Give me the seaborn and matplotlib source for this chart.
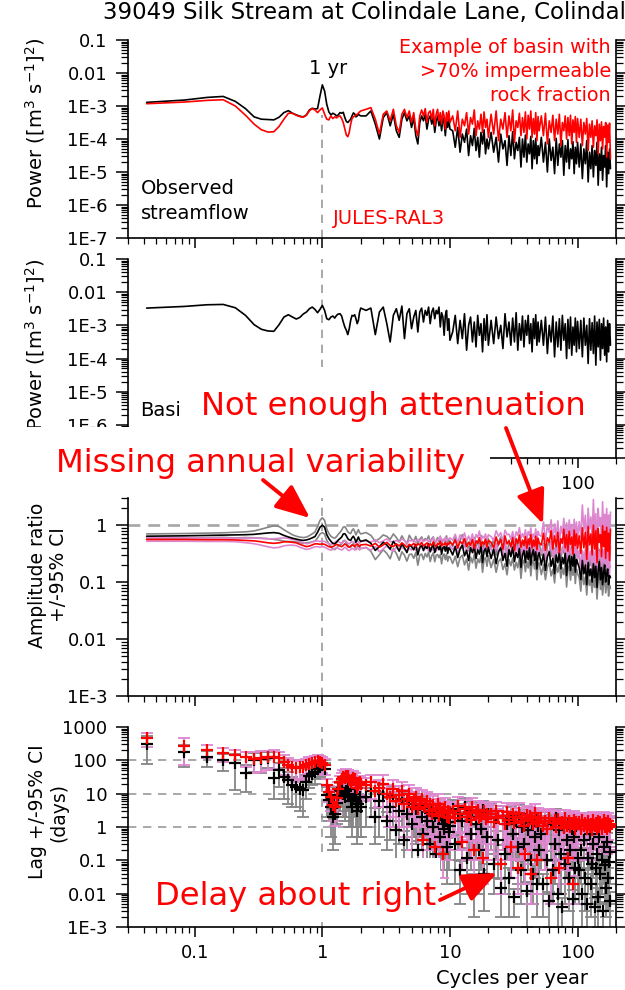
import numpy as np
import matplotlib
matplotlib.use("Agg")
import matplotlib.pyplot as plt
import seaborn as sns
from matplotlib.patches import Rectangle, FancyArrowPatch
from matplotlib.ticker import FixedLocator, FixedFormatter, LogLocator, NullFormatter

# ---------------- data ----------------
freq_cpy = [
    0.042, 0.083, 0.125, 0.167, 0.208, 0.25, 0.292, 0.333, 0.375, 0.417,
    0.458, 0.5, 0.542, 0.583, 0.625, 0.667, 0.708, 0.75, 0.792, 0.833,
    0.875, 0.917, 0.958, 1.0, 1.042, 1.083, 1.125, 1.167, 1.208, 1.25,
    1.292, 1.333, 1.375, 1.417, 1.458, 1.5, 1.542, 1.583, 1.625, 1.667,
    1.708, 1.75, 1.792, 1.833, 1.875, 1.917, 1.958, 2.0,
    2.2, 2.4, 2.6, 2.8, 3.0, 3.2, 3.4, 3.6, 3.8, 4.0,
    4.2, 4.4, 4.6, 4.8, 5.0, 5.2, 5.4, 5.6, 5.8, 6.0,
    6.2, 6.4, 6.6, 6.8, 7.0, 7.2, 7.4, 7.6, 7.8, 8.0,
    8.2, 8.4, 8.6, 8.8, 9.0, 9.2, 9.4, 9.6, 9.8, 10.0,
    10.5, 11, 11.5, 12, 12.5, 13, 13.5, 14, 14.5, 15,
    15.5, 16, 16.5, 17, 17.5, 18, 18.5, 19, 19.5, 20,
    21, 22, 23, 24, 25, 26, 27, 28, 29, 30,
    31, 32, 33, 34, 35, 36, 37, 38, 39, 40,
    41, 42, 43, 44, 45, 46, 47, 48, 49, 50,
    52, 54, 56, 58, 60, 62, 64, 66, 68, 70,
    72, 74, 76, 78, 80, 82, 84, 86, 88, 90,
    92, 94, 96, 98, 100,
    103, 106, 109, 112, 115, 118, 121, 124, 127, 130,
    133, 136, 139, 142, 145, 148, 151, 154, 157, 160,
    163, 166, 169, 172, 175, 178, 181]

# Panel 1: observed streamflow power (log10 of [m3 s-1]^2)
obs_power_log10 = [
    -2.89, -2.82, -2.74, -2.71, -2.86, -3.08, -3.33, -3.40, -3.41, -3.42,
    -3.34, -3.20, -3.14, -3.22, -3.27, -3.31, -3.33, -3.27, -3.12, -3.07,
    -3.09, -3.08, -2.70, -2.36, -2.55, -2.95, -3.18, -3.27, -3.22, -3.25,
    -3.30, -3.27, -3.20, -3.22, -3.19, -3.35, -3.47, -3.50, -3.45, -3.40,
    -3.30, -3.21, -3.24, -3.33, -3.30, -3.25, -3.28, -3.30,
    -3.30, -3.15, -3.55, -4.00, -3.35, -3.20, -3.60, -3.25, -3.75, -3.95,
    -3.40, -3.20, -3.45, -3.30, -3.65, -3.35, -3.90, -4.15, -3.50, -3.30,
    -3.45, -3.25, -3.70, -3.40, -3.30, -3.55, -3.35, -3.80, -3.45, -3.30,
    -3.60, -3.40, -3.75, -3.35, -3.50, -3.90, -3.45, -3.65, -3.40, -3.70,
    -3.75, -4.25, -3.65, -4.40, -3.85, -4.10, -3.70, -4.50, -3.90, -4.20,
    -3.68, -4.35, -3.95, -4.55, -3.80, -4.15, -3.72, -4.45, -4.00, -4.30,
    -3.80, -4.40, -3.95, -4.70, -3.85, -4.30, -4.05, -4.80, -3.90, -4.50,
    -3.78, -4.60, -4.10, -4.35, -3.95, -4.85, -4.00, -4.55, -3.88, -4.70,
    -4.15, -4.45, -3.92, -4.90, -4.05, -4.60, -3.98, -4.75, -4.20, -4.50,
    -3.95, -4.70, -4.10, -5.00, -4.00, -4.65, -4.25, -5.05, -3.98, -4.80,
    -4.15, -4.55, -4.05, -5.10, -4.20, -4.70, -4.02, -4.90, -4.30, -4.60,
    -4.08, -5.05, -4.25, -4.75, -4.10,
    -4.85, -4.15, -5.20, -4.30, -4.75, -4.05, -5.30, -4.40, -4.90, -4.20,
    -5.15, -4.35, -4.80, -4.10, -5.40, -4.45, -4.95, -4.25, -5.25, -4.50,
    -4.85, -4.20, -5.45, -4.40, -5.05, -4.30, -4.90]

# Panel 1: JULES-RAL3 simulated streamflow power (log10)
model_power_log10 = [
    -2.93, -2.88, -2.83, -2.81, -3.00, -3.28, -3.55, -3.72, -3.79, -3.78,
    -3.62, -3.40, -3.22, -3.22, -3.28, -3.32, -3.34, -3.28, -3.14, -3.08,
    -3.12, -3.20, -3.12, -3.06, -3.25, -3.40, -3.42, -3.30, -3.38, -3.33,
    -3.36, -3.32, -3.30, -3.38, -3.50, -3.70, -3.88, -3.93, -3.80, -3.55,
    -3.38, -3.33, -3.30, -3.28, -3.25, -3.22, -3.18, -3.15,
    -3.10, -3.05, -3.40, -3.85, -3.25, -3.15, -3.45, -3.10, -3.60, -3.80,
    -3.25, -3.10, -3.35, -3.15, -3.50, -3.20, -3.70, -3.90, -3.30, -3.12,
    -3.30, -3.08, -3.50, -3.20, -3.15, -3.40, -3.10, -3.60, -3.25, -3.10,
    -3.45, -3.20, -3.55, -3.15, -3.30, -3.70, -3.20, -3.45, -3.15, -3.50,
    -3.30, -3.75, -3.15, -3.95, -3.40, -3.60, -3.20, -3.85, -3.35, -3.55,
    -3.12, -3.90, -3.45, -3.70, -3.25, -3.80, -3.18, -3.65, -3.40, -3.95,
    -3.25, -3.85, -3.15, -4.05, -3.40, -3.70, -3.20, -3.95, -3.30, -3.75,
    -3.12, -4.10, -3.45, -3.65, -3.22, -3.90, -3.35, -3.80, -3.18, -4.00,
    -3.28, -3.70, -3.15, -3.95, -3.38, -3.85, -3.20, -4.05, -3.32, -3.75,
    -3.30, -3.90, -3.22, -4.15, -3.45, -3.80, -3.28, -4.05, -3.40, -3.85,
    -3.25, -4.20, -3.50, -3.75, -3.30, -4.00, -3.35, -3.90, -3.28, -4.15,
    -3.42, -3.80, -3.32, -4.10, -3.38,
    -3.95, -3.40, -4.20, -3.50, -3.85, -3.38, -4.35, -3.55, -3.95, -3.45,
    -4.25, -3.60, -3.90, -3.42, -4.45, -3.55, -4.05, -3.48, -4.30, -3.62,
    -3.95, -3.50, -4.55, -3.58, -4.10, -3.52, -4.60]

# Panel 2: basin input power (log10)
basin_power_log10 = [
    -2.48, -2.43, -2.38, -2.37, -2.47, -2.70, -2.98, -3.12, -3.17, -3.18,
    -2.98, -2.75, -2.68, -2.75, -2.81, -2.76, -2.66, -2.60, -2.50, -2.45,
    -2.52, -2.62, -2.52, -2.40, -2.55, -2.80, -2.83, -2.75, -2.72, -2.78,
    -2.70, -2.66, -2.65, -2.72, -2.90, -3.05, -3.15, -3.28, -3.10, -2.85,
    -2.70, -2.72, -2.68, -2.80, -2.95, -2.85, -2.60, -2.48,
    -2.55, -2.48, -3.28, -2.60, -2.45, -2.95, -3.50, -2.70, -2.50, -2.85,
    -2.42, -3.40, -2.65, -2.50, -3.10, -2.75, -2.55, -3.20, -2.60, -2.48,
    -2.90, -2.55, -2.70, -2.45, -2.95, -2.60, -2.48, -2.80, -2.55, -2.65,
    -2.45, -3.05, -2.62, -2.75, -3.30, -2.70, -2.55, -3.15, -2.80, -3.45,
    -3.20, -2.70, -3.55, -2.85, -3.40, -2.65, -3.75, -3.00, -2.75, -3.50,
    -2.90, -3.65, -2.70, -3.30, -2.95, -3.80, -2.80, -3.45, -2.68, -3.60,
    -2.85, -3.55, -2.75, -3.40, -3.00, -3.70, -2.65, -3.35, -2.90, -3.60,
    -2.78, -3.50, -2.62, -3.75, -2.95, -3.45, -2.72, -3.65, -2.85, -3.30,
    -2.70, -3.55, -2.95, -3.80, -2.80, -3.40, -2.68, -3.60, -2.90, -3.50,
    -2.85, -3.60, -2.75, -3.85, -3.00, -3.50, -2.72, -3.95, -2.90, -3.65,
    -2.80, -3.75, -2.70, -3.45, -2.95, -4.00, -2.82, -3.70, -2.75, -3.90,
    -3.05, -3.60, -2.78, -3.80, -2.88,
    -3.70, -2.85, -3.95, -2.78, -3.60, -3.00, -4.15, -2.80, -3.75, -2.92,
    -3.85, -2.72, -4.20, -2.90, -3.65, -2.82, -4.05, -2.95, -3.70, -2.78,
    -3.90, -3.05, -4.10, -2.85, -3.80, -2.95, -3.60]

# Panel 3: amplitude ratio (observed, black) and its 95% CI half-width (decades)
amp_obs = [
    0.64, 0.65, 0.66, 0.67, 0.67, 0.68, 0.69, 0.71, 0.73, 0.74,
    0.72, 0.66, 0.62, 0.59, 0.57, 0.55, 0.54, 0.55, 0.57, 0.60,
    0.63, 0.75, 0.92, 1.00, 0.92, 0.68, 0.58, 0.52, 0.48, 0.47,
    0.50, 0.55, 0.58, 0.62, 0.70, 0.71, 0.65, 0.58, 0.55, 0.54,
    0.60, 0.64, 0.58, 0.50, 0.56, 0.62, 0.55, 0.52,
    0.55, 0.48, 0.36, 0.42, 0.50, 0.45, 0.38, 0.52, 0.44, 0.35,
    0.47, 0.40, 0.33, 0.45, 0.42, 0.37, 0.46, 0.30, 0.41, 0.44,
    0.36, 0.43, 0.39, 0.47, 0.34, 0.41, 0.45, 0.33, 0.40, 0.43,
    0.37, 0.44, 0.31, 0.40, 0.42, 0.35, 0.45, 0.32, 0.40, 0.38,
    0.30, 0.42, 0.27, 0.38, 0.45, 0.29, 0.36, 0.24, 0.40, 0.33,
    0.43, 0.26, 0.37, 0.31, 0.44, 0.22, 0.35, 0.39, 0.28, 0.41,
    0.26, 0.38, 0.21, 0.34, 0.40, 0.24, 0.32, 0.19, 0.37, 0.28,
    0.41, 0.23, 0.33, 0.27, 0.39, 0.18, 0.30, 0.36, 0.22, 0.35,
    0.25, 0.40, 0.20, 0.31, 0.37, 0.24, 0.34, 0.17, 0.29, 0.33,
    0.20, 0.31, 0.16, 0.28, 0.34, 0.19, 0.26, 0.14, 0.30, 0.22,
    0.33, 0.17, 0.27, 0.21, 0.32, 0.13, 0.24, 0.29, 0.16, 0.28,
    0.19, 0.31, 0.15, 0.25, 0.22,
    0.18, 0.11, 0.24, 0.14, 0.20, 0.09, 0.22, 0.13, 0.17, 0.10,
    0.21, 0.12, 0.19, 0.08, 0.16, 0.23, 0.11, 0.18, 0.09, 0.15,
    0.20, 0.10, 0.14, 0.17, 0.09, 0.13, 0.12]
amp_obs_ci_dex = [
    0.04, 0.04, 0.04, 0.04, 0.05, 0.05, 0.06, 0.08, 0.10, 0.12,
    0.12, 0.10, 0.08, 0.06, 0.05, 0.05, 0.05, 0.05, 0.06, 0.07,
    0.08, 0.10, 0.12, 0.13, 0.12, 0.10, 0.09, 0.09, 0.10, 0.10,
    0.10, 0.10, 0.11, 0.12, 0.12, 0.12, 0.12, 0.12, 0.12, 0.12,
    0.13, 0.13, 0.13, 0.13, 0.13, 0.13, 0.13, 0.13,
    0.13, 0.14, 0.16, 0.14, 0.13, 0.15, 0.17, 0.13, 0.14, 0.16,
    0.14, 0.13, 0.15, 0.17, 0.13, 0.15, 0.14, 0.18, 0.14, 0.15,
    0.16, 0.13, 0.15, 0.14, 0.17, 0.15, 0.14, 0.16, 0.13, 0.15,
    0.14, 0.16, 0.17, 0.14, 0.13, 0.15, 0.16, 0.14, 0.15, 0.14,
    0.15, 0.17, 0.16, 0.15, 0.18, 0.16, 0.15, 0.17, 0.16, 0.18,
    0.15, 0.17, 0.16, 0.15, 0.18, 0.17, 0.15, 0.16, 0.17, 0.15,
    0.16, 0.18, 0.15, 0.17, 0.19, 0.16, 0.18, 0.15, 0.17, 0.16,
    0.19, 0.15, 0.17, 0.18, 0.16, 0.19, 0.15, 0.17, 0.16, 0.18,
    0.15, 0.17, 0.19, 0.16, 0.18, 0.15, 0.17, 0.19, 0.16, 0.18,
    0.17, 0.19, 0.16, 0.18, 0.20, 0.17, 0.19, 0.16, 0.18, 0.17,
    0.20, 0.16, 0.18, 0.19, 0.17, 0.20, 0.16, 0.18, 0.17, 0.19,
    0.16, 0.18, 0.20, 0.17, 0.19,
    0.18, 0.20, 0.17, 0.19, 0.21, 0.18, 0.20, 0.17, 0.19, 0.18,
    0.21, 0.17, 0.19, 0.20, 0.18, 0.21, 0.17, 0.19, 0.18, 0.20,
    0.17, 0.19, 0.21, 0.18, 0.20, 0.17, 0.19]

# Panel 3: amplitude ratio (JULES-RAL3, red) and CI half-width (decades)
amp_model = [
    0.56, 0.56, 0.555, 0.555, 0.55, 0.54, 0.53, 0.51, 0.49, 0.48,
    0.49, 0.51, 0.51, 0.50, 0.49, 0.46, 0.44, 0.42, 0.43, 0.45,
    0.47, 0.47, 0.46, 0.47, 0.46, 0.44, 0.42, 0.41, 0.42, 0.44,
    0.46, 0.45, 0.43, 0.42, 0.44, 0.47, 0.45, 0.42, 0.41, 0.43,
    0.45, 0.44, 0.42, 0.45, 0.47, 0.44, 0.42, 0.45,
    0.46, 0.43, 0.48, 0.41, 0.45, 0.50, 0.44, 0.42, 0.47, 0.43,
    0.49, 0.45, 0.41, 0.46, 0.44, 0.48, 0.42, 0.47, 0.45, 0.50,
    0.43, 0.46, 0.49, 0.42, 0.47, 0.44, 0.51, 0.45, 0.42, 0.48,
    0.46, 0.52, 0.43, 0.47, 0.45, 0.50, 0.44, 0.48, 0.46, 0.51,
    0.45, 0.55, 0.40, 0.52, 0.47, 0.58, 0.42, 0.50, 0.44, 0.56,
    0.39, 0.53, 0.48, 0.60, 0.43, 0.51, 0.46, 0.57, 0.41, 0.54,
    0.50, 0.40, 0.62, 0.45, 0.56, 0.38, 0.65, 0.47, 0.53, 0.42,
    0.60, 0.36, 0.58, 0.48, 0.67, 0.41, 0.55, 0.44, 0.63, 0.39,
    0.57, 0.46, 0.68, 0.40, 0.54, 0.43, 0.64, 0.37, 0.59, 0.49,
    0.45, 0.72, 0.36, 0.60, 0.50, 0.80, 0.38, 0.65, 0.42, 0.75,
    0.33, 0.58, 0.48, 0.85, 0.40, 0.68, 0.35, 0.78, 0.46, 0.62,
    0.31, 0.82, 0.44, 0.70, 0.39,
    0.65, 0.32, 0.90, 0.40, 0.75, 0.25, 0.95, 0.45, 0.70, 0.30,
    1.00, 0.38, 0.80, 0.22, 0.88, 0.50, 0.68, 0.28, 0.98, 0.42,
    0.78, 0.26, 0.92, 0.35, 0.72, 0.24, 0.85]
amp_model_ci_dex = [
    0.03, 0.03, 0.03, 0.03, 0.03, 0.04, 0.05, 0.06, 0.07, 0.08,
    0.08, 0.07, 0.06, 0.05, 0.05, 0.05, 0.05, 0.05, 0.05, 0.05,
    0.05, 0.05, 0.05, 0.05, 0.05, 0.05, 0.05, 0.05, 0.05, 0.05,
    0.06, 0.06, 0.06, 0.06, 0.06, 0.06, 0.06, 0.06, 0.06, 0.06,
    0.06, 0.06, 0.06, 0.06, 0.06, 0.06, 0.06, 0.06,
    0.06, 0.07, 0.06, 0.08, 0.07, 0.06, 0.07, 0.08, 0.06, 0.07,
    0.07, 0.08, 0.06, 0.07, 0.08, 0.06, 0.07, 0.08, 0.07, 0.06,
    0.08, 0.07, 0.06, 0.08, 0.07, 0.09, 0.07, 0.06, 0.08, 0.07,
    0.08, 0.09, 0.07, 0.08, 0.06, 0.09, 0.07, 0.08, 0.09, 0.07,
    0.08, 0.10, 0.09, 0.11, 0.08, 0.10, 0.09, 0.11, 0.08, 0.10,
    0.09, 0.11, 0.10, 0.12, 0.09, 0.10, 0.11, 0.09, 0.12, 0.10,
    0.10, 0.13, 0.11, 0.15, 0.12, 0.14, 0.10, 0.16, 0.12, 0.13,
    0.11, 0.15, 0.12, 0.14, 0.13, 0.16, 0.11, 0.14, 0.12, 0.15,
    0.13, 0.16, 0.12, 0.14, 0.11, 0.15, 0.13, 0.17, 0.12, 0.14,
    0.15, 0.20, 0.16, 0.22, 0.17, 0.19, 0.15, 0.21, 0.18, 0.20,
    0.16, 0.22, 0.17, 0.19, 0.15, 0.21, 0.18, 0.20, 0.16, 0.22,
    0.17, 0.19, 0.15, 0.21, 0.18,
    0.25, 0.28, 0.40, 0.30, 0.30, 0.26, 0.32, 0.28, 0.30, 0.27,
    0.45, 0.28, 0.30, 0.24, 0.35, 0.28, 0.30, 0.26, 0.42, 0.28,
    0.30, 0.25, 0.33, 0.28, 0.32, 0.25, 0.30]

# Panel 4: lag (days) and +/-95% CI (days), observed (black)
lag_obs_days = [
    310, 173, 129, 102, 86, 41, 105, 112, 120, 29,
    51, 32, 25, 18, 16, 14, 13, 22, 35, 40,
    45, 55, 62, 70, 55, 9, 6.5, 4, 2.0, 2.5,
    5.2, 9, 12, 15, 10, 8, 12, 14, 9, 6,
    4, 7, 10, 6, 3, 5, 8, 4,
    8, 12, 2.0, 6, 10, 1.5, 4, 9, 0.8, 3,
    7, 0.4, 2.5, 6, 1.2, 5, 3.5, 0.2, 4.5, 2.0,
    0.6, 3.8, 1.5, 3, 0.3, 2.8, 1.0, 2.2, 0.15, 2.6,
    1.8, 0.5, 2.0, 1.2, 0.9, 1.6, 0.25, 1.4, 0.7, 1.1,
    3.5, 0.3, 2.5, 0.05, 1.5, 4.0, 0.12, 2.0, 0.6, 3.0,
    0.02, 1.2, 2.8, 0.2, 0.9, 3.2, 0.04, 1.8, 0.5, 2.4,
    2.5, 0.08, 1.8, 0.4, 0.015, 2.2, 0.15, 1.2, 0.03, 2.0,
    0.6, 0.008, 1.5, 0.25, 2.3, 0.05, 1.0, 0.3, 1.7, 0.012,
    0.8, 2.0, 0.1, 1.3, 0.04, 0.5, 1.6, 0.02, 1.1, 0.2,
    0.6, 0.02, 1.5, 0.1, 0.006, 1.2, 0.05, 0.3, 1.8, 0.01,
    0.8, 0.15, 0.004, 1.0, 0.08, 0.4, 1.3, 0.03, 0.2, 0.9,
    0.007, 0.5, 0.06, 1.1, 0.12,
    0.05, 0.2, 0.01, 0.4, 0.03, 0.005, 0.12, 0.6, 0.02, 0.08,
    0.3, 0.004, 0.06, 0.15, 0.008, 0.5, 0.04, 0.1, 0.003, 0.25,
    0.07, 0.015, 0.35, 0.03, 0.09, 0.006, 0.18]
lag_obs_ci_days = [
    230, 111, 64, 54, 73, 30, 60, 70, 60, 22,
    35, 25, 20, 14, 12, 11, 11, 15, 20, 22,
    25, 28, 30, 32, 28, 7, 5, 3.5, 1.8, 2.2,
    4, 7, 9, 11, 8, 6.5, 10, 11, 8, 5,
    3.5, 6, 8, 5, 2.7, 4.5, 7, 3.5,
    7, 10, 1.7, 5.5, 8, 1.3, 3.6, 8, 0.7, 2.7,
    6, 0.35, 2.3, 5, 1.1, 4.5, 3.2, 0.18, 4, 1.8,
    0.55, 3.4, 1.4, 2.8, 0.27, 2.5, 0.95, 2.0, 0.14, 2.4,
    1.7, 0.45, 1.9, 1.1, 0.85, 1.5, 0.23, 1.3, 0.65, 1.0,
    3.0, 0.28, 2.3, 0.045, 1.4, 3.5, 0.11, 1.9, 0.55, 2.8,
    0.018, 1.1, 2.6, 0.19, 0.85, 3.0, 0.037, 1.7, 0.47, 2.3,
    2.3, 0.07, 1.7, 0.37, 0.013, 2.0, 0.14, 1.1, 0.028, 1.9,
    0.55, 0.006, 1.4, 0.23, 2.2, 0.045, 0.95, 0.28, 1.6, 0.011,
    0.75, 1.9, 0.09, 1.2, 0.035, 0.47, 1.5, 0.018, 1.0, 0.18,
    0.55, 0.018, 1.4, 0.09, 0.005, 1.1, 0.045, 0.28, 1.7, 0.009,
    0.75, 0.14, 0.0035, 0.95, 0.075, 0.37, 1.2, 0.027, 0.18, 0.85,
    0.006, 0.47, 0.055, 1.0, 0.11,
    0.045, 0.18, 0.009, 0.37, 0.027, 0.0045, 0.11, 0.55, 0.018, 0.075,
    0.27, 0.0035, 0.055, 0.14, 0.007, 0.46, 0.037, 0.09, 0.0025, 0.23,
    0.065, 0.013, 0.32, 0.027, 0.085, 0.0055, 0.16]

# Panel 4: lag (days) and +/-95% CI (days), JULES-RAL3 (red)
lag_model_days = [
    457, 270, 204, 162, 145, 123, 107, 115, 123, 129,
    115, 91, 72, 65, 58, 65, 62, 72, 80, 83,
    91, 98, 91, 83, 72, 18, 11.5, 8, 4.5, 4.1,
    7.4, 14, 22, 28, 32, 30, 35, 33, 26, 22,
    25, 30, 27, 20, 15, 18, 22, 19,
    18, 22, 12, 15, 20, 10, 8, 14, 6, 9,
    12, 5, 7, 10, 4, 6, 8, 3.5, 5, 7,
    0.4, 4, 6, 3, 5, 2.5, 4.5, 0.25, 3.5, 5,
    2.2, 3.8, 2.8, 0.15, 3.2, 4, 2, 3, 1.8, 2.6,
    3.0, 1.8, 4.2, 2.4, 0.35, 3.5, 2.0, 2.8, 1.6, 4.0,
    0.2, 2.6, 3.2, 1.9, 2.2, 0.12, 3.0, 1.7, 2.5, 2.0,
    2.5, 1.4, 3.0, 1.8, 0.08, 2.2, 1.2, 2.8, 1.6, 0.25,
    2.4, 1.3, 2.0, 0.06, 2.7, 1.5, 1.9, 1.1, 0.15, 2.3,
    1.6, 2.1, 0.04, 1.8, 1.2, 2.6, 1.4, 0.1, 1.9, 1.5,
    1.8, 1.1, 1.5, 0.9, 1.9, 0.03, 1.3, 1.6, 1.0, 1.7,
    0.06, 1.2, 1.4, 0.95, 1.8, 1.1, 0.12, 1.5, 1.0, 1.3,
    0.02, 1.6, 0.9, 1.4, 1.2,
    1.4, 0.9, 1.6, 1.1, 1.3, 0.85, 1.5, 1.0, 1.2, 0.8,
    1.6, 1.1, 1.3, 0.9, 1.5, 1.0, 1.4, 0.85, 1.2, 1.6,
    1.0, 1.3, 0.9, 1.5, 1.1, 1.2, 1.0]
lag_model_ci_days = [
    200, 200, 90, 70, 60, 60, 65, 70, 72, 75,
    65, 55, 45, 40, 35, 38, 37, 40, 42, 40,
    42, 44, 42, 40, 36, 9, 6, 5, 3, 3,
    5, 8, 12, 15, 18, 17, 20, 19, 15, 13,
    14, 17, 15, 12, 9, 11, 13, 11,
    12, 15, 10, 11, 16, 8, 7, 12, 5, 8,
    10, 4.5, 6, 8, 3.8, 5, 7, 3.3, 4, 6,
    0.3, 3.6, 5, 2.8, 4.5, 2.3, 4, 0.2, 3.2, 4.5,
    2.1, 3.2, 2.6, 0.12, 3, 3.6, 1.9, 2.8, 1.6, 2.4,
    2.5, 1.6, 3.5, 2.2, 0.3, 3.0, 1.9, 2.4, 1.5, 3.6,
    0.18, 2.4, 2.8, 1.8, 2.0, 0.1, 2.7, 1.6, 2.3, 1.9,
    2.2, 1.3, 2.6, 1.7, 0.07, 2.0, 1.1, 2.5, 1.5, 0.22,
    2.2, 1.2, 1.8, 0.05, 2.4, 1.4, 1.8, 1.0, 0.13, 2.1,
    1.5, 1.9, 0.035, 1.7, 1.1, 2.3, 1.3, 0.09, 1.8, 1.4,
    1.5, 1.0, 1.45, 0.8, 1.6, 0.025, 1.25, 1.4, 0.97, 1.5,
    0.05, 1.15, 1.2, 0.9, 1.5, 1.05, 0.1, 1.4, 0.95, 1.2,
    0.015, 1.5, 0.85, 1.3, 1.1,
    1.0, 0.8, 1.1, 0.9, 1.0, 0.75, 1.1, 0.85, 0.9, 0.7,
    1.2, 0.9, 1.0, 0.8, 1.1, 0.85, 1.0, 0.7, 0.9, 1.2,
    0.8, 1.0, 0.75, 1.1, 0.9, 0.95, 0.8]

# tick values / labels (labels hidden by the callout boxes are left blank)
x_ticks = [0.1, 1, 10, 100]
x_tick_labels = ["0.1", "1", "10", "100"]
x_tick_labels_panel2 = ["", "", "", "100"]
power_ticks = [1e-7, 1e-6, 1e-5, 1e-4, 1e-3, 0.01, 0.1]
power_tick_labels = ["1E-7", "1E-6", "1E-5", "1E-4", "1E-3", "0.01", "0.1"]
power_tick_labels_panel2 = ["", "1E-6", "1E-5", "1E-4", "1E-3", "0.01", "0.1"]
amp_ticks = [1e-3, 0.01, 0.1, 1]
amp_tick_labels = ["1E-3", "0.01", "0.1", "1"]
lag_ticks = [1e-3, 0.01, 0.1, 1, 10, 100, 1000]
lag_tick_labels = ["1E-3", "0.01", "0.1", "1", "10", "100", "1000"]
lag_ref_lines = [100, 10, 1]
annual_cpy = 1.0

_series = dict(obs=obs_power_log10, mod=model_power_log10, basin=basin_power_log10,
               ao=amp_obs, aoc=amp_obs_ci_dex, am=amp_model, amc=amp_model_ci_dex,
               lo=lag_obs_days, loc=lag_obs_ci_days, lm=lag_model_days, lmc=lag_model_ci_days)
for _k, _v in _series.items():
    assert len(_v) == len(freq_cpy), (_k, len(_v), len(freq_cpy))

# ---------------- style ----------------
sns.set_style("ticks")
plt.rcParams["font.family"] = ["DejaVu Sans"]
plt.rcParams["axes.linewidth"] = 1.2
plt.rcParams["text.color"] = "black"
plt.rcParams["axes.labelcolor"] = "black"
plt.rcParams["xtick.color"] = "black"
plt.rcParams["ytick.color"] = "black"
plt.rcParams["axes.edgecolor"] = "black"

BLACK = "black"
RED = "#ff0000"
GREY = "#858585"
PINK = "#dd86cf"
DASH = "#9a9a9a"

W, H = 625.0, 990.0
fig = plt.figure(figsize=(6.25, 9.9), dpi=100, facecolor="white")


def rect(x0, y0, x1, y1):
    return [x0 / W, 1 - y1 / H, (x1 - x0) / W, (y1 - y0) / H]


def fx(x):
    return x / W


def fy(y):
    return 1 - y / H


ax1 = fig.add_axes(rect(128, 40, 616, 238))
ax2 = fig.add_axes(rect(128, 259, 616, 458))
ax3 = fig.add_axes(rect(128, 498, 616, 696))
ax4 = fig.add_axes(rect(128, 727, 616, 927))

freq = np.array(freq_cpy, dtype=float)
obs_p = 10.0 ** np.array(obs_power_log10)
mod_p = 10.0 ** np.array(model_power_log10)
bas_p = 10.0 ** np.array(basin_power_log10)

# Panel 1
sns.lineplot(x=freq, y=obs_p, ax=ax1, color=BLACK, linewidth=1.2, sort=False, estimator=None)
sns.lineplot(x=freq, y=mod_p, ax=ax1, color=RED, linewidth=1.2, sort=False, estimator=None)

# Panel 2
sns.lineplot(x=freq, y=bas_p, ax=ax2, color=BLACK, linewidth=1.2, sort=False, estimator=None)

# Panel 3
ao = np.array(amp_obs)
aoc = 10.0 ** np.array(amp_obs_ci_dex)
am = np.array(amp_model)
amc = 10.0 ** np.array(amp_model_ci_dex)
for yy in (ao * aoc, ao / aoc):
    sns.lineplot(x=freq, y=yy, ax=ax3, color=GREY, linewidth=1.2, sort=False, estimator=None)
for yy in (am * amc, am / amc):
    sns.lineplot(x=freq, y=yy, ax=ax3, color=PINK, linewidth=1.2, sort=False, estimator=None)
sns.lineplot(x=freq, y=ao, ax=ax3, color=BLACK, linewidth=1.2, sort=False, estimator=None)
sns.lineplot(x=freq, y=am, ax=ax3, color=RED, linewidth=1.2, sort=False, estimator=None)

# Panel 4
lo = np.array(lag_obs_days, dtype=float)
loc = np.array(lag_obs_ci_days, dtype=float)
lm = np.array(lag_model_days, dtype=float)
lmc = np.array(lag_model_ci_days, dtype=float)
ax4.errorbar(freq, lo, yerr=loc, fmt="none", ecolor=GREY, elinewidth=1.3,
             capsize=4.5, capthick=1.3, zorder=2)
ax4.errorbar(freq, lm, yerr=lmc, fmt="none", ecolor=PINK, elinewidth=1.3,
             capsize=4.5, capthick=1.3, zorder=2.1)
sns.scatterplot(x=freq, y=lo, ax=ax4, marker="+", s=70, color=BLACK, linewidth=1.6, zorder=3)
sns.scatterplot(x=freq, y=lm, ax=ax4, marker="+", s=70, color=RED, linewidth=1.6, zorder=3.1)

# reference lines
ax1.axvline(annual_cpy, ymin=0, ymax=0.62, color=DASH, lw=1.2, ls=(0, (5, 4)), zorder=0.5)
ax2.axvline(annual_cpy, color=DASH, lw=1.2, ls=(0, (5, 4)), zorder=0.5)
ax3.axvline(annual_cpy, color=DASH, lw=1.2, ls=(0, (5, 4)), zorder=0.5)
ax3.axhline(1, color="#a6a6a6", lw=1.9, ls=(0, (4.5, 3)), zorder=0.5)
ax4.axvline(annual_cpy, color=DASH, lw=1.2, ls=(0, (5, 4)), zorder=0.5)
for yv in lag_ref_lines:
    ax4.axhline(yv, color=DASH, lw=1.2, ls=(0, (5, 4)), zorder=0.5)


def style(ax, yt, ytl, ylim, xtl):
    ax.set_xscale("log")
    ax.set_yscale("log")
    ax.set_xlim(0.03, 200)
    ax.set_ylim(*ylim)
    ax.set_xlabel("")
    ax.set_ylabel("")
    ax.spines["top"].set_visible(False)
    for s in ("left", "bottom", "right"):
        ax.spines[s].set_visible(True)
        ax.spines[s].set_color("black")
        ax.spines[s].set_linewidth(1.2)
    ax.yaxis.set_major_locator(FixedLocator(yt))
    ax.yaxis.set_major_formatter(FixedFormatter(ytl))
    ax.yaxis.set_minor_locator(LogLocator(base=10, subs=np.arange(2, 10), numticks=30))
    ax.yaxis.set_minor_formatter(NullFormatter())
    ax.xaxis.set_major_locator(FixedLocator(x_ticks))
    if xtl is not None:
        ax.xaxis.set_major_formatter(FixedFormatter(xtl))
    else:
        ax.xaxis.set_major_formatter(NullFormatter())
    ax.xaxis.set_minor_locator(LogLocator(base=10, subs=np.arange(2, 10), numticks=30))
    ax.xaxis.set_minor_formatter(NullFormatter())
    ax.tick_params(axis="y", which="both", left=True, right=True, direction="out",
                   color="black", labelcolor="black")
    ax.tick_params(axis="y", which="major", length=9, width=1.1, labelsize=13, pad=6)
    ax.tick_params(axis="y", which="minor", length=5, width=0.9)
    ax.tick_params(axis="x", which="both", bottom=True, top=False, direction="out",
                   color="black", labelcolor="black")
    ax.tick_params(axis="x", which="major", length=7, width=1.1, labelsize=13, pad=5)
    ax.tick_params(axis="x", which="minor", length=4, width=0.9)
    ax.set_facecolor("white")


style(ax1, power_ticks, power_tick_labels, (1e-7, 0.1), None)
style(ax2, power_ticks, power_tick_labels_panel2, (1e-7, 0.1), x_tick_labels_panel2)
style(ax3, amp_ticks, amp_tick_labels, (1e-3, 3), None)
style(ax4, lag_ticks, lag_tick_labels, (1e-3, 1000), x_tick_labels)

# ---------------- texts ----------------
power_label = "Power ([m$^3$ s$^{-1}$]$^2$)"
fig.text(fx(103), fy(12), "39049 Silk Stream at Colindale Lane, Colindale",
         fontsize=16.5, ha="left", va="center")
fig.text(fx(35), fy(123), power_label, rotation=90, ha="center", va="center", fontsize=14)
fig.text(fx(35), fy(344), power_label, rotation=90, ha="center", va="center", fontsize=14)
fig.text(fx(48), fy(575), "Amplitude ratio\n+/-95% CI", rotation=90, ha="center",
         va="center", fontsize=13.5, multialignment="center", linespacing=1.15)
fig.text(fx(48), fy(812), "Lag +/-95% CI\n(days)", rotation=90, ha="center",
         va="center", fontsize=13.5, multialignment="center", linespacing=1.15)
fig.text(fx(512), fy(978), "Cycles per year", ha="center", va="center", fontsize=14)

fig.text(fx(328), fy(68), "1 yr", ha="center", va="center", fontsize=14)
fig.text(fx(141), fy(201), "Observed\nstreamflow", ha="left", va="center",
         fontsize=14, linespacing=1.35)
fig.text(fx(333), fy(218), "JULES-RAL3", ha="left", va="center", fontsize=14, color=RED)
fig.text(fx(611), fy(71.5), "Example of basin with\n>70% impermeable\nrock fraction",
         ha="right", va="center", multialignment="right", fontsize=13.8,
         color=RED, linespacing=1.35)
fig.text(fx(140), fy(410), "Basi", ha="left", va="center", fontsize=14)

# white callout boxes
for (x0, y0, x1, y1) in [(183, 367, 613, 447), (15, 427, 490, 489), (131, 858, 440, 922)]:
    fig.add_artist(Rectangle((fx(x0), fy(y1)), (x1 - x0) / W, (y1 - y0) / H,
                             transform=fig.transFigure, facecolor="white",
                             edgecolor="none", zorder=10))

fig.text(fx(393), fy(415), "Not enough attenuation", ha="center", va="baseline",
         fontsize=23.2, color=RED, zorder=11)
fig.text(fx(261), fy(472), "Missing annual variability", ha="center", va="baseline",
         fontsize=23.2, color=RED, zorder=11)
fig.text(fx(296), fy(905), "Delay about right", ha="center", va="baseline",
         fontsize=23.2, color=RED, zorder=11)

for (xa, ya, xb, yb) in [(263, 480, 310, 518), (506, 428, 543, 524), (440, 900, 497, 873)]:
    fig.add_artist(FancyArrowPatch((fx(xa), fy(ya)), (fx(xb), fy(yb)),
                                   transform=fig.transFigure,
                                   arrowstyle="-|>,head_length=1.3,head_width=0.55",
                                   mutation_scale=16, color=RED, lw=2.8,
                                   shrinkA=0, shrinkB=0, zorder=12))

fig.savefig("out.png", dpi=100, facecolor="white")
